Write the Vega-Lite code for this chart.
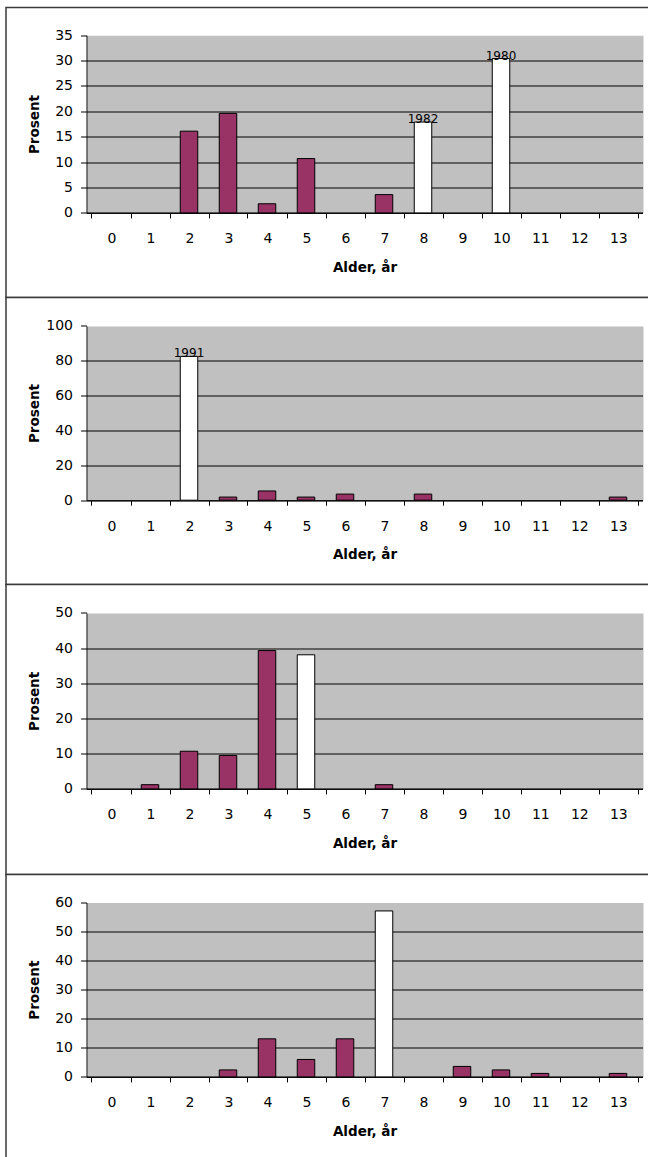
{
  "$schema": "https://vega.github.io/schema/vega-lite/v6.json",
  "description": "Aldersfordeling (prosent) i fire tokt, 1990-1998. Hvite søyler er sterke årsklasser.",
  "usermeta": {"embedOptions": {"actions": false}},
  "background": "white",
  "padding": {"left": 5, "top": 6.5, "right": 0, "bottom": 0},
  "spacing": 0,
  "bounds": "flush",
  "config": {
    "font": "DejaVu Sans",
    "view": {"stroke": "#3a3a3a", "strokeWidth": 1.5, "fill": "white"},
    "axis": {
      "domainColor": "black",
      "domainWidth": 1,
      "tickColor": "black",
      "tickWidth": 1,
      "labelColor": "black",
      "labelFont": "DejaVu Sans",
      "labelFontSize": 14,
      "titleColor": "black",
      "titleFont": "DejaVu Sans",
      "titleFontSize": 13.5,
      "titleFontWeight": "bold",
      "labelOverlap": false,
      "labelFlush": false,
      "labelBound": false
    },
    "axisX": {"tickSize": -5, "labelPadding": -14, "labelBaseline": "top", "titleBaseline": "middle", "titleY": 54.3, "labelOffset": 19.857},
    "axisY": {"tickSize": 6, "labelPadding": 8, "titleBaseline": "middle", "titleX": -52},
    "text": {"font": "DejaVu Sans", "fontSize": 12, "color": "black"}
  },
  "data": {
    "values": [
      {"aar": 1990, "alder": 2, "prosent": 16.1, "gruppe": "øvrige"},
      {"aar": 1990, "alder": 3, "prosent": 19.6, "gruppe": "øvrige"},
      {"aar": 1990, "alder": 4, "prosent": 1.8, "gruppe": "øvrige"},
      {"aar": 1990, "alder": 5, "prosent": 10.7, "gruppe": "øvrige"},
      {"aar": 1990, "alder": 7, "prosent": 3.6, "gruppe": "øvrige"},
      {"aar": 1990, "alder": 8, "prosent": 17.9, "gruppe": "sterk årsklasse", "etikett": "1982"},
      {"aar": 1990, "alder": 10, "prosent": 30.4, "gruppe": "sterk årsklasse", "etikett": "1980"},
      {"aar": 1993, "alder": 2, "prosent": 82.5, "gruppe": "sterk årsklasse", "etikett": "1991"},
      {"aar": 1993, "alder": 3, "prosent": 1.8, "gruppe": "øvrige"},
      {"aar": 1993, "alder": 4, "prosent": 5.3, "gruppe": "øvrige"},
      {"aar": 1993, "alder": 5, "prosent": 1.8, "gruppe": "øvrige"},
      {"aar": 1993, "alder": 6, "prosent": 3.5, "gruppe": "øvrige"},
      {"aar": 1993, "alder": 8, "prosent": 3.5, "gruppe": "øvrige"},
      {"aar": 1993, "alder": 13, "prosent": 1.8, "gruppe": "øvrige"},
      {"aar": 1996, "alder": 1, "prosent": 1.2, "gruppe": "øvrige"},
      {"aar": 1996, "alder": 2, "prosent": 10.7, "gruppe": "øvrige"},
      {"aar": 1996, "alder": 3, "prosent": 9.5, "gruppe": "øvrige"},
      {"aar": 1996, "alder": 4, "prosent": 39.3, "gruppe": "øvrige"},
      {"aar": 1996, "alder": 5, "prosent": 38.1, "gruppe": "sterk årsklasse"},
      {"aar": 1996, "alder": 7, "prosent": 1.2, "gruppe": "øvrige"},
      {"aar": 1998, "alder": 3, "prosent": 2.4, "gruppe": "øvrige"},
      {"aar": 1998, "alder": 4, "prosent": 13.1, "gruppe": "øvrige"},
      {"aar": 1998, "alder": 5, "prosent": 6.0, "gruppe": "øvrige"},
      {"aar": 1998, "alder": 6, "prosent": 13.1, "gruppe": "øvrige"},
      {"aar": 1998, "alder": 7, "prosent": 57.1, "gruppe": "sterk årsklasse"},
      {"aar": 1998, "alder": 9, "prosent": 3.6, "gruppe": "øvrige"},
      {"aar": 1998, "alder": 10, "prosent": 2.4, "gruppe": "øvrige"},
      {"aar": 1998, "alder": 11, "prosent": 1.2, "gruppe": "øvrige"},
      {"aar": 1998, "alder": 13, "prosent": 1.2, "gruppe": "øvrige"}
    ]
  },
  "vconcat": [
    {
      "width": 660,
      "height": 290,
      "transform": [{"filter": "datum.aar === 1990"}],
      "encoding": {
        "x": {
          "field": "alder", "type": "quantitative",
          "scale": {"domain": [-0.5, 13.5], "range": [80.5, 636.5], "nice": false, "zero": false},
          "axis": {
            "orient": "top",
            "offset": -205.4,
            "values": [-0.5, 0.5, 1.5, 2.5, 3.5, 4.5, 5.5, 6.5, 7.5, 8.5, 9.5, 10.5, 11.5, 12.5, 13.5],
            "labelExpr": "datum.value < 13 ? format(datum.value + 0.5, 'd') : ''",
            "title": "Alder, år",
            "grid": true,
            "gridColor": {"condition": {"test": "datum.value === 6.5", "value": "#c0c0c0"}, "value": "transparent"},
            "gridWidth": {"condition": {"test": "datum.value === 6.5", "value": 556}, "value": 1}
          }
        },
        "y": {
          "field": "prosent", "type": "quantitative",
          "scale": {"domain": [0, 35], "range": [205.4, 27.7], "nice": false, "zero": false},
          "axis": {
            "offset": -80.5,
            "values": [0, 5, 10, 15, 20, 25, 30, 35],
            "title": "Prosent",
            "grid": true,
            "gridColor": {"condition": {"test": "datum.value === 35", "value": "transparent"}, "value": "black"}
          }
        }
      },
      "layer": [
        {
          "mark": {"type": "bar", "width": 17.5, "stroke": "black", "strokeWidth": 1},
          "encoding": {
            "color": {"field": "gruppe", "type": "nominal", "scale": {"domain": ["øvrige", "sterk årsklasse"], "range": ["#993366", "#ffffff"]}, "legend": null}
          }
        },
        {
          "transform": [{"filter": "datum.etikett"}],
          "mark": {"type": "text", "dy": -3},
          "encoding": {"text": {"field": "etikett"}}
        },
        {
          "data": {"values": [{}]},
          "mark": {"type": "text", "align": "left", "baseline": "top", "lineHeight": 17.5, "text": ["1990", "n= 56"]},
          "encoding": {"x": {"datum": 11.42}, "y": {"datum": 32.3}}
        }
      ]
    },
    {
      "width": 660,
      "height": 287,
      "transform": [{"filter": "datum.aar === 1993"}],
      "encoding": {
        "x": {
          "field": "alder", "type": "quantitative",
          "scale": {"domain": [-0.5, 13.5], "range": [80.5, 636.5], "nice": false, "zero": false},
          "axis": {
            "orient": "top",
            "offset": -202.7,
            "values": [-0.5, 0.5, 1.5, 2.5, 3.5, 4.5, 5.5, 6.5, 7.5, 8.5, 9.5, 10.5, 11.5, 12.5, 13.5],
            "labelExpr": "datum.value < 13 ? format(datum.value + 0.5, 'd') : ''",
            "title": "Alder, år",
            "grid": true,
            "gridColor": {"condition": {"test": "datum.value === 6.5", "value": "#c0c0c0"}, "value": "transparent"},
            "gridWidth": {"condition": {"test": "datum.value === 6.5", "value": 556}, "value": 1}
          }
        },
        "y": {
          "field": "prosent", "type": "quantitative",
          "scale": {"domain": [0, 100], "range": [202.7, 28.4], "nice": false, "zero": false},
          "axis": {
            "offset": -80.5,
            "values": [0, 20, 40, 60, 80, 100],
            "title": "Prosent",
            "grid": true,
            "gridColor": {"condition": {"test": "datum.value === 100", "value": "transparent"}, "value": "black"}
          }
        }
      },
      "layer": [
        {
          "mark": {"type": "bar", "width": 17.5, "stroke": "black", "strokeWidth": 1},
          "encoding": {
            "color": {"field": "gruppe", "type": "nominal", "scale": {"domain": ["øvrige", "sterk årsklasse"], "range": ["#993366", "#ffffff"]}, "legend": null}
          }
        },
        {
          "transform": [{"filter": "datum.etikett"}],
          "mark": {"type": "text", "dy": -3},
          "encoding": {"text": {"field": "etikett"}}
        },
        {
          "data": {"values": [{}]},
          "mark": {"type": "text", "align": "left", "baseline": "top", "lineHeight": 17.5, "text": ["1993", "n= 57"]},
          "encoding": {"x": {"datum": 11.49}, "y": {"datum": 86.9}}
        }
      ]
    },
    {
      "width": 660,
      "height": 290,
      "transform": [{"filter": "datum.aar === 1996"}],
      "encoding": {
        "x": {
          "field": "alder", "type": "quantitative",
          "scale": {"domain": [-0.5, 13.5], "range": [80.5, 636.5], "nice": false, "zero": false},
          "axis": {
            "orient": "top",
            "offset": -204.4,
            "values": [-0.5, 0.5, 1.5, 2.5, 3.5, 4.5, 5.5, 6.5, 7.5, 8.5, 9.5, 10.5, 11.5, 12.5, 13.5],
            "labelExpr": "datum.value < 13 ? format(datum.value + 0.5, 'd') : ''",
            "title": "Alder, år",
            "grid": true,
            "gridColor": {"condition": {"test": "datum.value === 6.5", "value": "#c0c0c0"}, "value": "transparent"},
            "gridWidth": {"condition": {"test": "datum.value === 6.5", "value": 556}, "value": 1}
          }
        },
        "y": {
          "field": "prosent", "type": "quantitative",
          "scale": {"domain": [0, 50], "range": [204.4, 28.4], "nice": false, "zero": false},
          "axis": {
            "offset": -80.5,
            "values": [0, 10, 20, 30, 40, 50],
            "title": "Prosent",
            "grid": true,
            "gridColor": {"condition": {"test": "datum.value === 50", "value": "transparent"}, "value": "black"}
          }
        }
      },
      "layer": [
        {
          "mark": {"type": "bar", "width": 17.5, "stroke": "black", "strokeWidth": 1},
          "encoding": {
            "color": {"field": "gruppe", "type": "nominal", "scale": {"domain": ["øvrige", "sterk årsklasse"], "range": ["#993366", "#ffffff"]}, "legend": null}
          }
        },
        {
          "data": {"values": [{}]},
          "mark": {"type": "text", "align": "left", "baseline": "top", "lineHeight": 17.5, "text": ["1996", "n= 84"]},
          "encoding": {"x": {"datum": 11.49}, "y": {"datum": 43.6}}
        }
      ]
    },
    {
      "width": 660,
      "height": 290,
      "transform": [{"filter": "datum.aar === 1998"}],
      "encoding": {
        "x": {
          "field": "alder", "type": "quantitative",
          "scale": {"domain": [-0.5, 13.5], "range": [80.5, 636.5], "nice": false, "zero": false},
          "axis": {
            "orient": "top",
            "offset": -202.4,
            "values": [-0.5, 0.5, 1.5, 2.5, 3.5, 4.5, 5.5, 6.5, 7.5, 8.5, 9.5, 10.5, 11.5, 12.5, 13.5],
            "labelExpr": "datum.value < 13 ? format(datum.value + 0.5, 'd') : ''",
            "title": "Alder, år",
            "grid": true,
            "gridColor": {"condition": {"test": "datum.value === 6.5", "value": "#c0c0c0"}, "value": "transparent"},
            "gridWidth": {"condition": {"test": "datum.value === 6.5", "value": 556}, "value": 1}
          }
        },
        "y": {
          "field": "prosent", "type": "quantitative",
          "scale": {"domain": [0, 60], "range": [202.4, 28], "nice": false, "zero": false},
          "axis": {
            "offset": -80.5,
            "values": [0, 10, 20, 30, 40, 50, 60],
            "title": "Prosent",
            "grid": true,
            "gridColor": {"condition": {"test": "datum.value === 60", "value": "transparent"}, "value": "black"}
          }
        }
      },
      "layer": [
        {
          "mark": {"type": "bar", "width": 17.5, "stroke": "black", "strokeWidth": 1},
          "encoding": {
            "color": {"field": "gruppe", "type": "nominal", "scale": {"domain": ["øvrige", "sterk årsklasse"], "range": ["#993366", "#ffffff"]}, "legend": null}
          }
        },
        {
          "data": {"values": [{}]},
          "mark": {"type": "text", "align": "left", "baseline": "top", "lineHeight": 17.5, "text": ["1998", "n= 84"]},
          "encoding": {"x": {"datum": 11.566}, "y": {"datum": 54.9}}
        }
      ]
    }
  ]
}
